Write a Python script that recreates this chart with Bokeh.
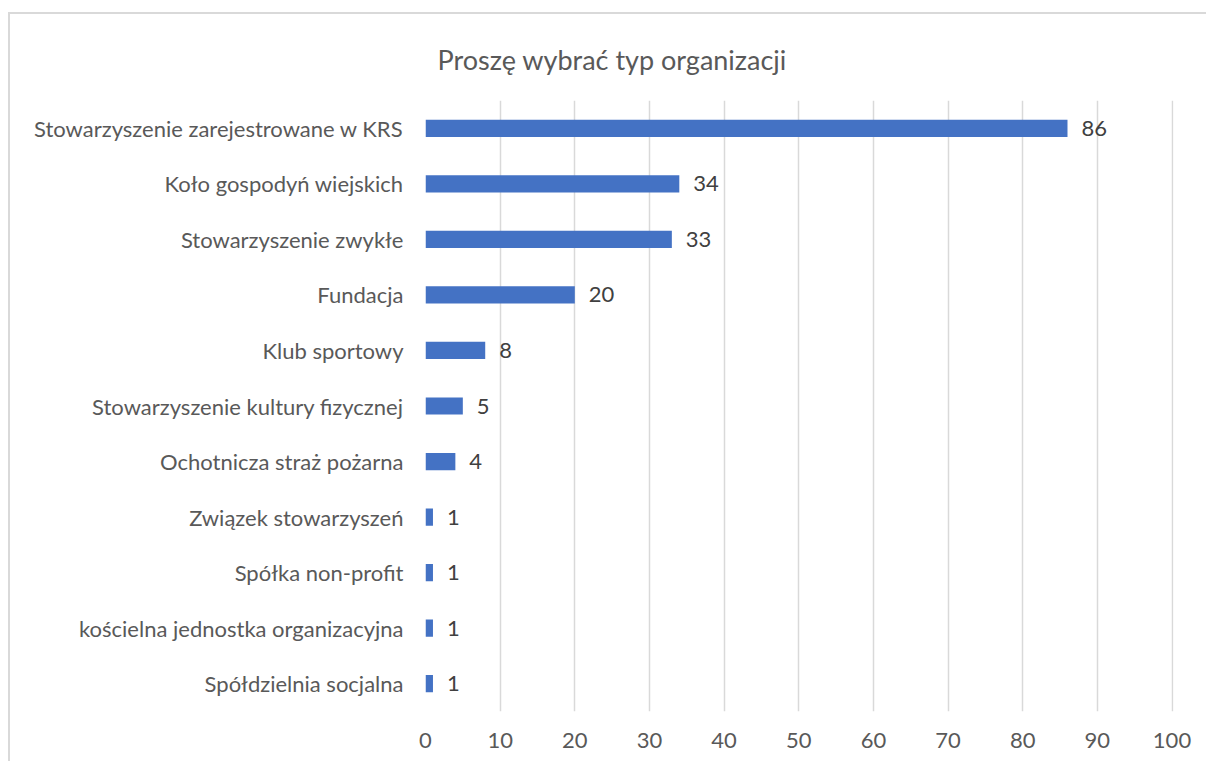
from bokeh.plotting import figure
from bokeh.models import ColumnDataSource, LabelSet, FixedTicker, Range1d
from bokeh.core.properties import value
from bokeh.embed import file_html
from bokeh.resources import INLINE

categories = [
    "Stowarzyszenie zarejestrowane w KRS",
    "Koło gospodyń wiejskich",
    "Stowarzyszenie zwykłe",
    "Fundacja",
    "Klub sportowy",
    "Stowarzyszenie kultury fizycznej",
    "Ochotnicza straż pożarna",
    "Związek stowarzyszeń",
    "Spółka non-profit",
    "kościelna jednostka organizacyjna",
    "Spółdzielnia socjalna",
]
values = [86, 34, 33, 20, 8, 5, 4, 1, 1, 1, 1]
x_ticks = [0, 10, 20, 30, 40, 50, 60, 70, 80, 90, 100]
title_text = "Proszę wybrać typ organizacji"

FONT = "Lato"

source = ColumnDataSource(dict(cat=categories, val=values, lab=[str(v) for v in values]))

p = figure(
    y_range=list(reversed(categories)),
    x_range=Range1d(0, 100.2),
    width=1198, height=749,
    output_backend="svg", toolbar_location=None,
    min_border_left=415, min_border_right=35,
    min_border_top=86, min_border_bottom=52,
    styles={"border-top": "2px solid #d9d9d9", "border-left": "2px solid #d9d9d9",
            "margin-top": "12px", "margin-left": "8px"},
)

p.hbar(y="cat", right="val", left=0, height=0.31, source=source,
       fill_color="#4472C4", line_color=None)

labels = LabelSet(x="val", y="cat", text="lab", source=source, x_offset=14,
                  text_align="left", text_baseline="middle",
                  text_font=value(FONT), text_font_size="22px", text_color="#404040")
p.add_layout(labels)

p.title.text = title_text
p.title.align = "left"
p.title.offset = 12
p.title.text_font = FONT
p.title.text_font_size = "27px"
p.title.text_font_style = "normal"
p.title.text_color = "#595959"
p.title.standoff = 50

p.xaxis.ticker = FixedTicker(ticks=x_ticks)
p.xaxis.axis_line_color = None
p.xaxis.major_tick_line_color = None
p.xaxis.minor_tick_line_color = None
p.xaxis.major_label_text_font = FONT
p.xaxis.major_label_text_font_size = "22px"
p.xaxis.major_label_text_color = "#595959"
p.xaxis.major_label_standoff = 15

p.yaxis.axis_line_color = None
p.yaxis.major_tick_line_color = None
p.yaxis.minor_tick_line_color = None
p.yaxis.major_label_text_font = FONT
p.yaxis.major_label_text_font_size = "22px"
p.yaxis.major_label_text_color = "#595959"
p.yaxis.major_label_standoff = 16

p.xgrid.grid_line_color = "#d9d9d9"
p.xgrid.grid_line_width = 1.5
p.ygrid.grid_line_color = None
p.outline_line_color = None

open("out.html", "w").write(file_html(p, INLINE))
